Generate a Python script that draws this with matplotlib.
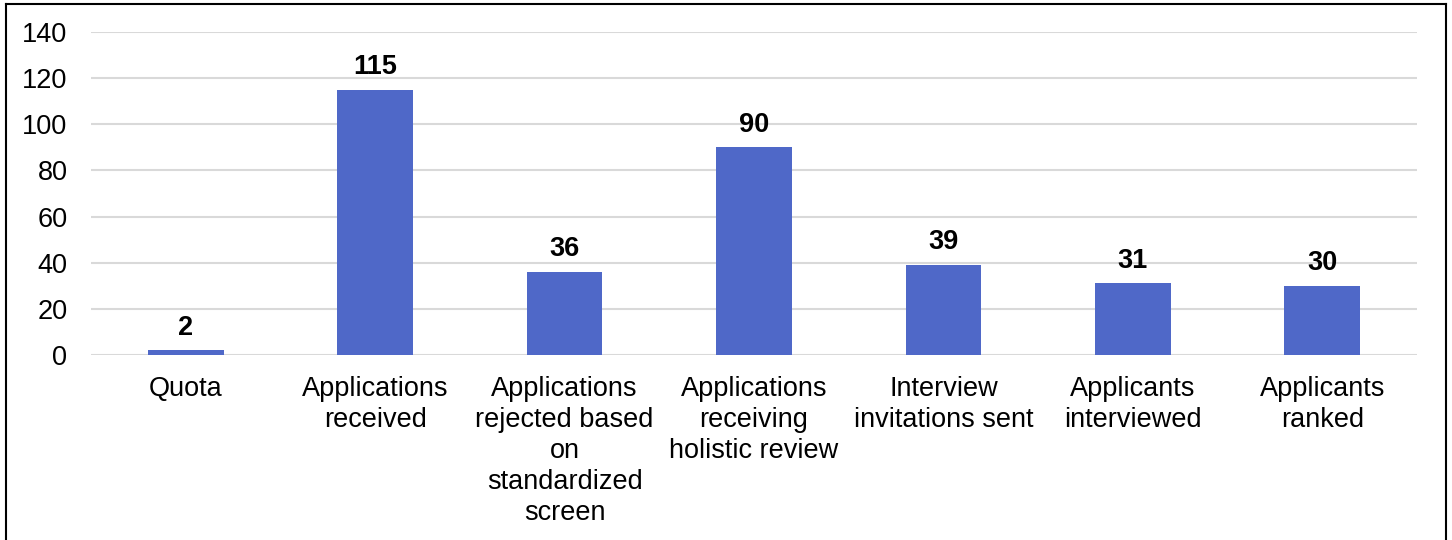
import matplotlib
matplotlib.use("Agg")
import matplotlib.pyplot as plt
from matplotlib.lines import Line2D

plt.rcParams['font.family'] = ['Liberation Sans', 'DejaVu Sans']

categories = ["Quota", "Applications\nreceived", "Applications\nrejected based\non\nstandardized\nscreen",
              "Applications\nreceiving\nholistic review", "Interview\ninvitations sent",
              "Applicants\ninterviewed", "Applicants\nranked"]
values = [2, 115, 36, 90, 39, 31, 30]
yticks = [0, 20, 40, 60, 80, 100, 120, 140]

FS = 19.5
fig = plt.figure(figsize=(14.52, 5.40), dpi=100)
ax = fig.add_axes([91/1452, 1 - 355/540, (1417-91)/1452, (355-32)/540])

x = list(range(len(categories)))
ax.bar(x, values, width=0.4, color="#4F68C8", zorder=3)
ax.set_xlim(-0.5, len(categories) - 0.5)
ax.set_ylim(0, 140)
ax.set_yticks(yticks)
ax.set_yticklabels([str(t) for t in yticks], fontsize=FS)
ax.set_xticks(x)
ax.set_xticklabels(categories, fontsize=FS, linespacing=1.25)
ax.tick_params(axis='both', length=0, colors='black')
ax.tick_params(axis='y', pad=17)
ax.tick_params(axis='x', pad=15)
ax.grid(axis='y', color='#D9D9D9', linewidth=1.5, zorder=0)
for s in ax.spines.values():
    s.set_visible(False)

for xi, v in zip(x, values):
    ax.annotate(str(v), (xi, v), xytext=(0, 7), textcoords='offset points',
                ha='center', va='bottom', fontsize=FS, fontweight='bold')

# figure border
kw = dict(transform=fig.transFigure, color='black', linewidth=1.5)
fig.add_artist(Line2D([5.5/1452, 5.5/1452], [0, 1 - 4/540], **kw))
fig.add_artist(Line2D([1446/1452, 1446/1452], [0, 1 - 4/540], **kw))
fig.add_artist(Line2D([5.5/1452, 1446/1452], [1 - 4/540, 1 - 4/540], **kw))

fig.savefig("out.png", dpi=100)
